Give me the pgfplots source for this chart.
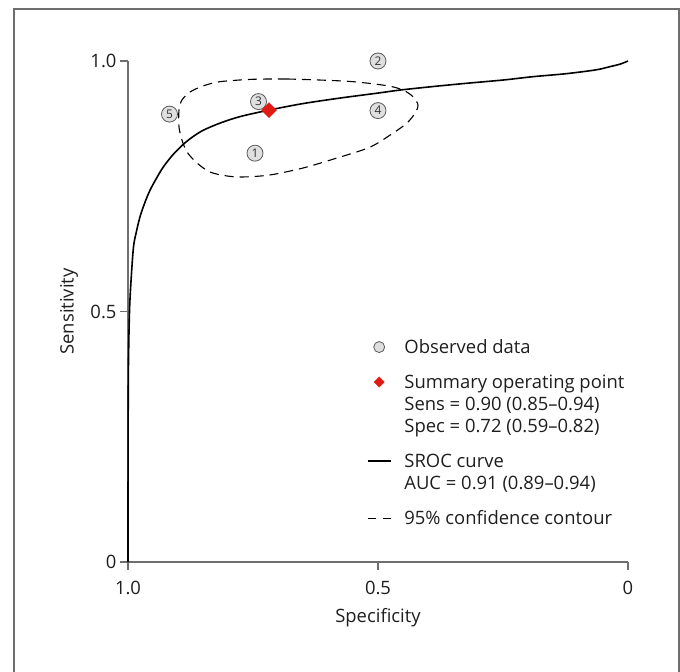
\documentclass[border=0pt]{standalone}
\usepackage{pgfplots}
\pgfplotsset{compat=1.18}
\usepackage{fontspec}
\setmainfont{Open Sans}
\definecolor{sred}{RGB}{226,26,20}
\definecolor{axgray}{RGB}{110,110,110}
\definecolor{txt}{RGB}{30,30,30}
\newcommand{\strA}{\rule[-7bp]{0pt}{22bp}}
\newcommand{\strB}{\rule[-7bp]{0pt}{35bp}}
\pgfplotsset{
 legA/.style={legend image code/.code={\path[draw=none,fill=none] (0bp,-7bp) rectangle (23bp,15bp);
   \draw[mark repeat=2,mark phase=2,##1] plot coordinates {(0bp,6bp)(11.5bp,6bp)(23bp,6bp)};}},
 legB/.style={legend image code/.code={\path[draw=none,fill=none] (0bp,-7bp) rectangle (23bp,28bp);
   \draw[mark repeat=2,mark phase=2,##1] plot coordinates {(0bp,6bp)(11.5bp,6bp)(23bp,6bp)};}},
 legE/.style={legend image code/.code={\path[draw=none,fill=none] (0bp,-7bp) rectangle (23bp,15bp);}},
}
\begin{document}
\begin{tikzpicture}
\begin{axis}[
 at={(0,0)}, anchor=south west,
 scale only axis, width=500bp, height=501bp,
 xmin=0, xmax=1, ymin=0, ymax=1, x dir=reverse,
 axis x line*=bottom, axis y line*=left,
 axis line style={axgray, line width=1.2bp, -},
 tick style={axgray, line width=1.1bp},
 tick align=outside, major tick length=8bp,
 xtick={0,0.5,1}, xticklabels={0,0.5,1.0},
 ytick={0,0.5,1}, yticklabels={0,0.5,1.0},
 font=\fontsize{18.5}{22}\selectfont,
 tick label style={text=txt},
 x tick label style={yshift=-8bp},
 xlabel={Specificity}, ylabel={Sensitivity},
 x label style={at={(axis description cs:0.5,-0.112)}, anchor=center, text=txt},
 y label style={at={(axis description cs:-0.118,0.5)}, anchor=center, text=txt},
 clip=false,
 legend cell align=left,
 legend style={at={(axis description cs:0.478,0.447)}, anchor=north west, draw=none, fill=none,
   inner sep=0pt, outer sep=0pt, column sep=13bp, row sep=0pt,
   nodes={inner sep=0pt, text=txt}, cells={anchor=base west},
   font=\fontsize{18.5}{22}\selectfont},
]
% 95% confidence contour
\addplot[black, line width=1.1bp, dash pattern=on 9bp off 6bp, smooth, forget plot] coordinates {
(0.682,0.9641) (0.616,0.962) (0.550,0.9587) (0.482,0.9507) (0.450,0.942) (0.430,0.9288)
(0.420,0.9122) (0.426,0.8958) (0.442,0.8762) (0.470,0.856) (0.516,0.828) (0.582,0.8064)
(0.650,0.7864) (0.716,0.7725) (0.770,0.7685) (0.802,0.7705) (0.836,0.7784) (0.862,0.7964)
(0.882,0.8184) (0.892,0.8423) (0.898,0.8683) (0.898,0.9022) (0.892,0.9222) (0.876,0.9381)
(0.850,0.9501) (0.816,0.9587) (0.750,0.9635) (0.682,0.9641)};
% SROC curve
\addplot[black, line width=1.6bp, smooth, tension=0.5, forget plot] coordinates {
(1.0,0.0) (0.9999,0.15) (0.9996,0.3) (0.999,0.4) (0.997,0.5) (0.994,0.56) (0.989,0.629)
(0.983,0.66) (0.976,0.689) (0.966,0.718) (0.956,0.742) (0.943,0.766) (0.929,0.789)
(0.910,0.813) (0.889,0.834) (0.870,0.849) (0.849,0.862) (0.816,0.876) (0.776,0.889) (0.718,0.902)
(0.65,0.915) (0.576,0.926) (0.5,0.936) (0.456,0.942) (0.39,0.949) (0.323,0.9555)
(0.25,0.962) (0.19,0.9687) (0.13,0.974) (0.09,0.9787) (0.06,0.983) (0.036,0.9887)
(0.015,0.994) (0.0,1.0)};
% Observed data
\addplot[only marks, mark=*, mark size=8bp, mark options={fill=gray!25, draw=black!65, line width=0.8bp},
 nodes near coords, point meta=explicit symbolic,
 every node near coord/.style={anchor=center, font=\fontsize{12}{12}\selectfont, text=black!80, inner sep=0pt},
 forget plot] coordinates {
(0.746,0.816) [1] (0.5,1.0) [2] (0.739,0.919) [3] (0.5,0.901) [4] (0.917,0.894) [5]};
% Summary operating point
\addplot[only marks, mark=square*, mark size=5.3bp, mark options={rotate=45, fill=sred, draw=sred}, forget plot]
 coordinates {(0.718,0.902)};
% Legend
\addlegendimage{legA, only marks, mark=*, mark size=5.5bp, mark options={fill=gray!25, draw=black!65, line width=0.8bp}}
\addlegendentry{\strA Observed data}
\addlegendimage{legB, only marks, mark=square*, mark size=3.6bp, mark options={rotate=45, fill=sred, draw=sred}}
\addlegendentry{\strB Summary operating point}
\addlegendimage{legE}
\addlegendentry{\strA Sens = 0.90 (0.85–0.94)}
\addlegendimage{legE}
\addlegendentry{\strA Spec = 0.72 (0.59–0.82)}
\addlegendimage{legB, black, line width=1.4bp}
\addlegendentry{\strB SROC curve}
\addlegendimage{legE}
\addlegendentry{\strA AUC = 0.91 (0.89–0.94)}
\addlegendimage{legB, black, line width=1.1bp, dash pattern=on 8bp off 7bp}
\addlegendentry{\strB 95\% confidence contour}
\end{axis}
\draw[axgray, line width=1.3bp] (-114bp,-130bp) -- (-114bp,553bp) -- (551bp,553bp) -- (551bp,-130bp);
\pgfresetboundingbox
\useasboundingbox (-128bp,-110bp) rectangle (552bp,562bp);
\end{tikzpicture}
\end{document}
